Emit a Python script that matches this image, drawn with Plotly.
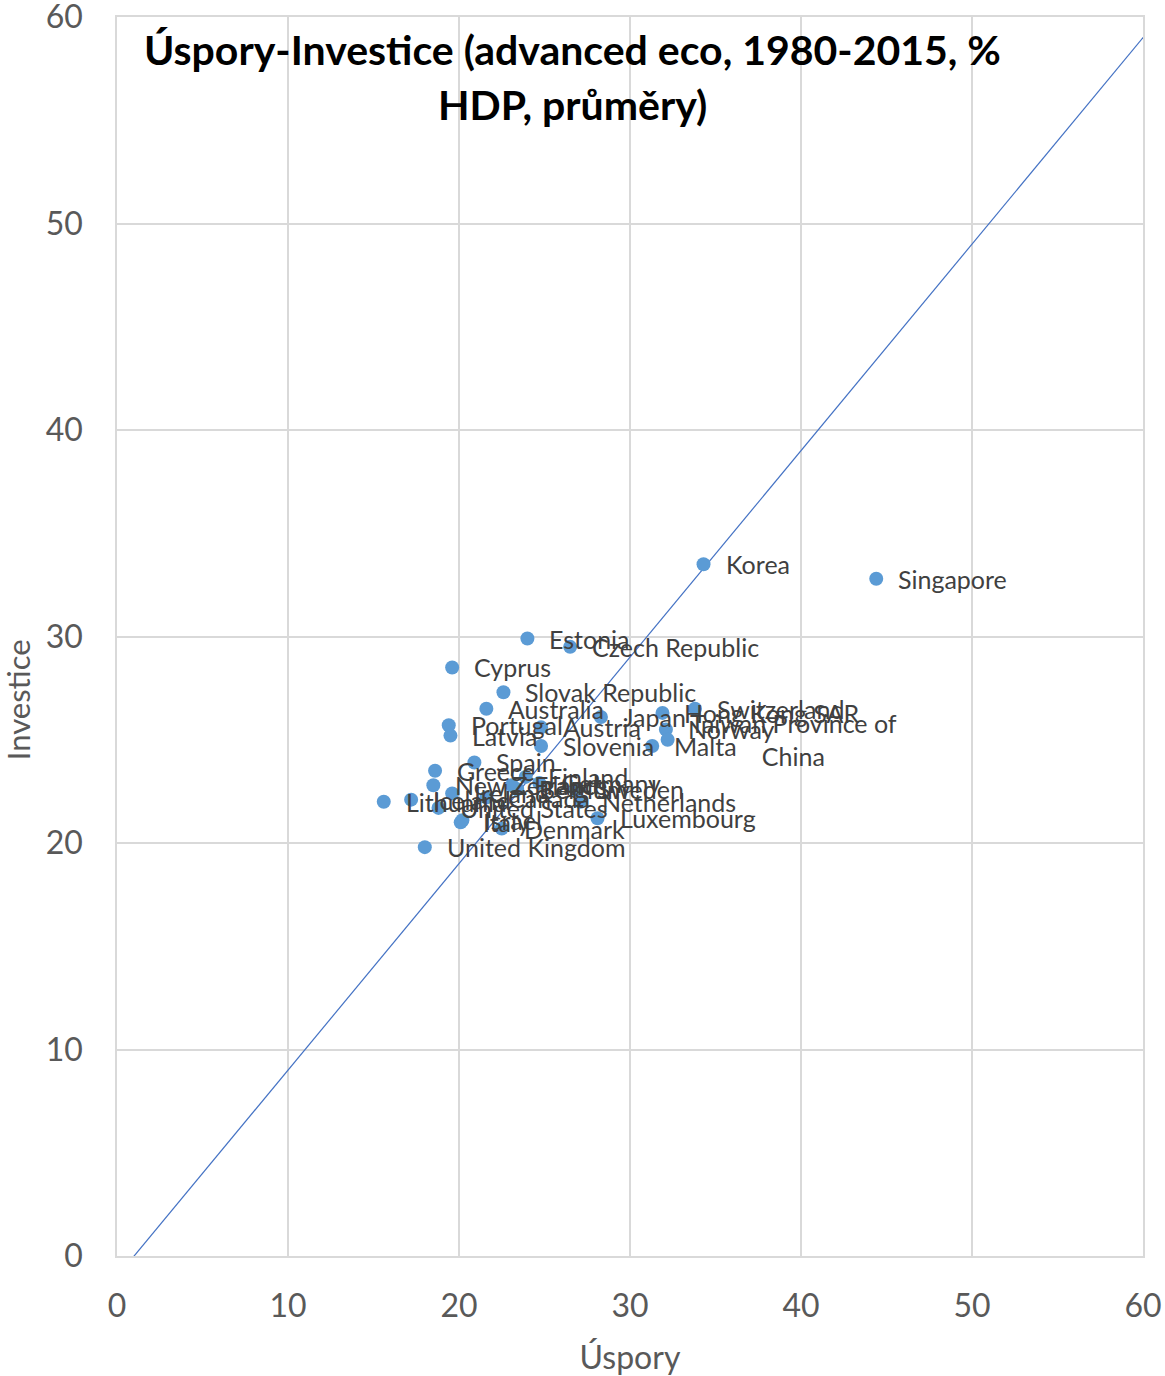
import plotly.graph_objects as go

countries = [
    "Korea", "Singapore", "Estonia", "Czech Republic", "Cyprus", "Slovak Republic",
    "Australia", "Portugal", "Latvia", "Austria", "Japan", "Hong Kong SAR",
    "Switzerland", "Norway", "Taiwan Province of<br>China", "Malta", "Slovenia", "Spain",
    "Greece", "New Zealand", "Lithuania", "Iceland", "Ireland", "United States",
    "Canada", "France", "Belgium", "Finland", "Germany", "Sweden",
    "Netherlands", "Luxembourg", "Denmark", "Israel", "Italy", "United Kingdom",
]
savings = [
    34.3, 44.4, 24.0, 26.5, 19.6, 22.6,
    21.6, 19.4, 19.5, 24.8, 28.3, 31.9,
    33.8, 32.1, 32.2, 31.3, 24.8, 20.9,
    18.6, 18.5, 15.6, 17.2, 19.6, 18.8,
    21.6, 23.1, 23.4, 23.9, 24.7, 26.8,
    27.1, 28.1, 22.5, 20.2, 20.1, 18.0,
]
investment = [
    33.5, 32.8, 29.9, 29.5, 28.5, 27.3,
    26.5, 25.7, 25.2, 25.6, 26.1, 26.3,
    26.5, 25.5, 25.0, 24.7, 24.7, 23.9,
    23.5, 22.8, 22.0, 22.1, 22.4, 21.7,
    22.2, 22.8, 22.6, 23.2, 22.9, 22.6,
    22.0, 21.2, 20.7, 21.1, 21.0, 19.8,
]

diag_x = [0, 61]
diag_y = [-1, 60]

ticks = [0, 10, 20, 30, 40, 50, 60]

title_lines = ["Úspory-Investice (advanced eco, 1980-2015, %", "HDP, průměry)"]

FONT = "Lato"
grid = "#d9d9d9"
tickc = "#595959"
labc = "#404040"

fig = go.Figure()
fig.add_trace(go.Scatter(
    x=diag_x, y=diag_y, mode="lines",
    line=dict(color="#4472c4", width=1.2), hoverinfo="skip", showlegend=False,
))
fig.add_trace(go.Scatter(
    x=savings, y=investment, mode="markers",
    marker=dict(color="#5b9bd5", size=14),
    text=countries, showlegend=False, cliponaxis=False,
))

for c, xv, yv in zip(countries, savings, investment):
    fig.add_annotation(
        x=xv, y=yv, xref="x", yref="y", text=c, showarrow=False,
        xanchor="left", yanchor="middle", xshift=20, align="center",
        font=dict(family=FONT, size=25, color=labc),
    )

for line, ty in zip(title_lines, [0.9734, 0.9290]):
    fig.add_annotation(
        text="<b>" + line + "</b>", xref="paper", yref="paper", x=0.4435, y=ty,
        showarrow=False, xanchor="center", yanchor="middle",
        font=dict(family=FONT, size=41, color="black"),
    )

fig.add_annotation(
    text="Investice", xref="paper", yref="paper", x=-0.097, y=0.449,
    textangle=-90, showarrow=False, xanchor="center", yanchor="middle",
    font=dict(family=FONT, size=31, color=tickc),
)

fig.update_layout(
    width=1165, height=1376,
    margin=dict(l=117, r=22, t=17, b=120, autoexpand=False),
    paper_bgcolor="white", plot_bgcolor="white",
    xaxis=dict(
        range=[0, 60], tickvals=ticks, showgrid=True, gridcolor=grid, gridwidth=1.5,
        showline=True, linecolor=grid, linewidth=1.5, mirror=True, zeroline=False,
        tickfont=dict(family=FONT, size=32, color=tickc), ticklabelstandoff=21,
        automargin=False, ticklabeloverflow="allow",
        title=dict(text="Úspory", font=dict(family=FONT, size=32, color=tickc), standoff=28),
    ),
    yaxis=dict(
        range=[0, 60], tickvals=ticks, showgrid=True, gridcolor=grid, gridwidth=1.5,
        showline=True, linecolor=grid, linewidth=1.5, mirror=True, zeroline=False,
        tickfont=dict(family=FONT, size=32, color=tickc), ticklabelstandoff=26,
        automargin=False, ticklabeloverflow="allow",
    ),
)

fig.write_html("out.html", config={"displayModeBar": False},
               post_script="document.body.style.margin='0';")
